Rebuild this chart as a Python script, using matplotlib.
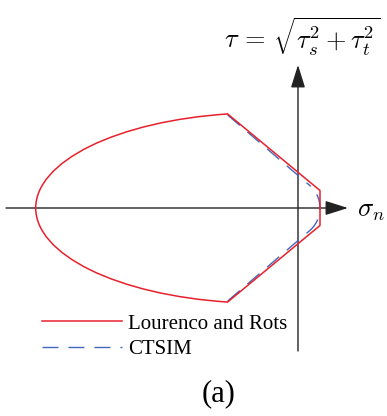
import numpy as np
import matplotlib.pyplot as plt
from matplotlib.patches import Arc
from matplotlib.lines import Line2D

plt.rcParams["mathtext.fontset"] = "cm"

# Lourenco and Rots: elliptic compression cap + linear shear branches + tension cut-off
cap_center = -35.0
cap_half_width = 227.3
cap_half_height = 95.2
cap_theta = (110.6, 249.4)
lr_sigma = [-70.3, 22.0, 22.0, -70.3]
lr_tau = [94.0, 17.5, -17.5, -94.0]

# CTSIM: same shear branches, rounded tension tip
ct_upper_sigma = [-70.3, 10.0]
ct_upper_tau = [93.0, 24.0]
ct_lower_sigma = [-70.3, 10.0]
ct_lower_tau = [-93.0, -24.0]
tip_center = -8.0
tip_radius = 30.0
tip_theta = (-53.1, 53.1)

red = "#e8202c"
blue = "#4466bb"
axis_col = "#222222"
dash = (11.5, 7.2)

fig = plt.figure(figsize=(3.87, 4.16), dpi=100)
ax = fig.add_axes([0, 0, 1, 1])
ax.set_xlim(-298, 89)
ax.set_ylim(-208, 208)
ax.set_aspect("equal")
ax.axis("off")

# axes with arrow heads
arrow = dict(arrowstyle="-|>,head_length=14,head_width=4.4", color=axis_col,
             lw=1.0, shrinkA=0, shrinkB=0, mutation_scale=1)
ax.annotate("", xy=(50, 0), xytext=(-292, 0), arrowprops=arrow)
ax.annotate("", xy=(0, 143), xytext=(0, -143), arrowprops=arrow)

# red surface
ax.add_patch(Arc((cap_center, 0), 2 * cap_half_width, 2 * cap_half_height,
                 theta1=cap_theta[0], theta2=cap_theta[1], color=red, lw=1.1, zorder=4))
ax.plot(lr_sigma, lr_tau, color=red, lw=1.1, zorder=4)

# blue dashed surface
ax.plot(ct_upper_sigma, ct_upper_tau, color=blue, lw=1.0, dashes=dash, zorder=3)
ax.plot(ct_lower_sigma, ct_lower_tau, color=blue, lw=1.0, dashes=dash, zorder=3)
ax.add_patch(Arc((tip_center, 0), 2 * tip_radius, 2 * tip_radius,
                 theta1=tip_theta[0], theta2=tip_theta[1], color=blue, lw=1.0,
                 ls=(0, dash), zorder=3))

ax.text(-74, 171, r"$\tau\,=\,\sqrt{\tau_s^2+\tau_t^2}$", fontsize=19, ha="left", va="center")
ax.text(59, -2, r"$\sigma_n$", fontsize=19, ha="left", va="center")

handles = [Line2D([], [], color=red, lw=1.1),
           Line2D([], [], color=blue, lw=1.0, dashes=dash)]
ax.legend(handles, ["Lourenco and Rots", "CTSIM"], loc="upper left",
          bbox_to_anchor=(42 / 387, 1 - 314 / 416), frameon=False,
          prop={"family": "Liberation Serif", "size": 15},
          handlelength=3.84, handletextpad=0.29, labelspacing=0.3,
          borderpad=0, borderaxespad=0)

ax.text(-79, -186, "(a)", fontsize=22, family="Liberation Serif", ha="center", va="center")

fig.savefig("out.png", dpi=100)
